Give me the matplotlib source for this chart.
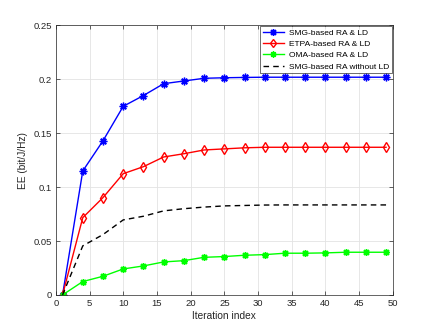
import matplotlib.pyplot as plt

plt.rcParams['font.family'] = ['Liberation Sans', 'DejaVu Sans']

iters = [1, 4, 7, 10, 13, 16, 19, 22, 25, 28, 31, 34, 37, 40, 43, 46, 49]
ee_smg = [0, 0.115, 0.143, 0.175, 0.185, 0.196, 0.1985, 0.201, 0.2015, 0.2018,
          0.202, 0.202, 0.202, 0.202, 0.202, 0.202, 0.202]
ee_etpa = [0, 0.0717, 0.0903, 0.1125, 0.119, 0.128, 0.131, 0.1345, 0.1355, 0.1365,
           0.137, 0.137, 0.137, 0.137, 0.137, 0.137, 0.137]
ee_oma = [0, 0.0124, 0.0173, 0.0241, 0.0269, 0.0306, 0.0318, 0.0349, 0.0356, 0.0368,
          0.0374, 0.0387, 0.0387, 0.039, 0.0396, 0.0396, 0.0396]
ee_nold = [0, 0.0455, 0.056, 0.0696, 0.073, 0.078, 0.080, 0.0815, 0.0826, 0.083,
           0.0834, 0.0835, 0.0835, 0.0835, 0.0835, 0.0835, 0.0835]

txt = '#262626'
asterisk = (8, 2, 0)  # matlab-style '*'

fig = plt.figure(figsize=(4.36, 3.31), dpi=100)
ax = fig.add_axes([0.128, 0.109, 0.773, 0.814])

ax.plot(iters, ee_smg, '-', marker=asterisk, color='blue', lw=1, ms=5.5, mew=1,
        label='SMG-based RA & LD')
ax.plot(iters, ee_etpa, '-d', color='red', lw=1, ms=5, mfc='none', mew=1,
        label='ETPA-based RA & LD')
ax.plot(iters, ee_oma, '-', marker=asterisk, color='#00ff00', lw=1, ms=5, mew=1,
        label='OMA-based RA & LD')
ax.plot(iters, ee_nold, '--', color='black', lw=1, dashes=(4, 3),
        label='SMG-based RA without LD')

ax.set_xlim(0, 50)
ax.set_ylim(0, 0.25)
ax.set_xticks(range(0, 51, 5))
ax.set_yticks([0, 0.05, 0.1, 0.15, 0.2, 0.25])
ax.set_yticklabels(['0', '0.05', '0.1', '0.15', '0.2', '0.25'])
ax.grid(True, color='#e3e3e3', lw=0.6)
ax.set_axisbelow(True)
ax.tick_params(direction='in', labelsize=6.8, colors=txt, length=3, width=0.5,
               top=True, right=True, pad=3)
for s in ax.spines.values():
    s.set_color(txt)
    s.set_linewidth(0.5)
ax.set_xlabel('Iteration index', fontsize=7.3, color=txt, labelpad=2)
ax.set_ylabel('EE (bit/J/Hz)', fontsize=7.3, color=txt, labelpad=4)

leg = ax.legend(loc='upper right', fontsize=6, frameon=True, fancybox=False,
                edgecolor='black', borderaxespad=0.1, handlelength=2.5,
                handletextpad=0.6, labelspacing=0.4, borderpad=0.35,
                markerscale=0.9)
leg.get_frame().set_linewidth(0.5)

fig.savefig('out.png', dpi=100)
